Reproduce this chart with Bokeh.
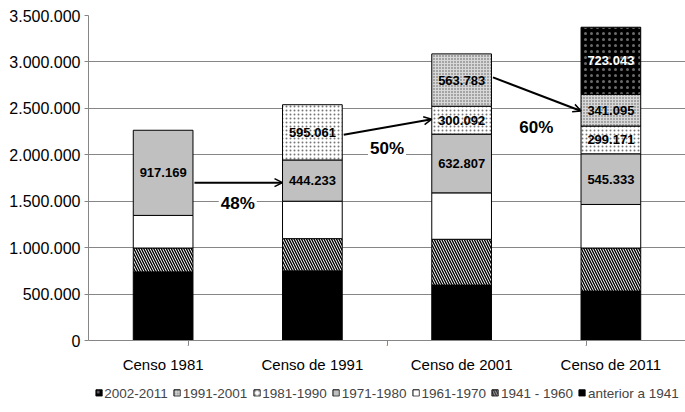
from bokeh.plotting import figure
from bokeh.layouts import column
from bokeh.models import (FactorRange, Range1d, CategoricalAxis, FixedTicker,
                          Legend, LegendItem, ColumnDataSource, Arrow, OpenHead)
from bokeh.core.properties import value
from bokeh.embed import file_html
from bokeh.resources import INLINE

# ---------------- data ----------------
censos = ["Censo 1981", "Censo de 1991", "Censo de 2001", "Censo de 2011"]
cohorts = ["anterior a 1941", "1941 - 1960", "1961-1970", "1971-1980",
           "1981-1990", "1991-2001", "2002-2011"]
anterior_1941 = [739000, 750000, 597000, 532000]
c1941_1960 = [257000, 347000, 493000, 464000]
c1961_1970 = [351000, 403000, 500000, 469000]
c1971_1980 = [917169, 444233, 632807, 545333]
c1981_1990 = [0, 595061, 300092, 299171]
c1991_2001 = [0, 0, 563783, 341095]
c2002_2011 = [0, 0, 0, 723043]
cohort_values = [anterior_1941, c1941_1960, c1961_1970, c1971_1980,
                 c1981_1990, c1991_2001, c2002_2011]
labelled_cohorts = ["1971-1980", "1981-1990", "1991-2001", "2002-2011"]

y_ticks = [0, 500000, 1000000, 1500000, 2000000, 2500000, 3000000, 3500000]
y_tick_labels = ["0", "500.000", "1.000.000", "1.500.000", "2.000.000",
                 "2.500.000", "3.000.000", "3.500.000"]

# arrows: same cohort followed from one census to the next
arrow_from = ["Censo 1981", "Censo de 1991", "Censo de 2001"]
arrow_to = ["Censo de 1991", "Censo de 2001", "Censo de 2011"]
arrow_y_start = [1700000, 2215000, 2833000]
arrow_y_end = [1700000, 2383000, 2472000]
retention_pct = ["48%", "50%", "60%"]
retention_pct_y = [1475000, 2063000, 2290000]

# ---------------- styles ----------------
FONT = "Liberation Sans"
GRID = "#868686"
BAR_W = 0.4
styles = {
    "anterior a 1941": dict(fill_color="black"),
    "1941 - 1960": dict(fill_color="white", hatch_pattern="left_diagonal_line",
                        hatch_color="black", hatch_scale=5, hatch_weight=1.4),
    "1961-1970": dict(fill_color="white"),
    "1971-1980": dict(fill_color="#c0c0c0"),
    "1981-1990": dict(fill_color="white", hatch_pattern="dot", hatch_color="#777777",
                      hatch_scale=4, hatch_weight=0.5),
    "1991-2001": dict(fill_color="#d8d8d8", hatch_pattern="dot", hatch_color="#555555",
                      hatch_scale=3, hatch_weight=0.6),
    "2002-2011": dict(fill_color="black", hatch_pattern="dot", hatch_color="#6a6a6a",
                      hatch_scale=6, hatch_weight=0.5),
}

p = figure(x_range=FactorRange(*censos), y_range=Range1d(0, 3500000),
           width=685, height=375, output_backend="svg", toolbar_location=None,
           x_axis_location=None, min_border_left=88, min_border_right=0,
           min_border_top=15, min_border_bottom=33)
p.outline_line_color = None
p.background_fill_color = "white"
p.border_fill_color = "white"

# stacked bars (only non-empty segments are drawn)
bottoms = [0] * len(censos)
seg_x, seg_y, seg_text, seg_color = [], [], [], []
for name, vals in zip(cohorts, cohort_values):
    tops = [b + v for b, v in zip(bottoms, vals)]
    keep = [i for i, v in enumerate(vals) if v > 0]
    src = ColumnDataSource(dict(x=[censos[i] for i in keep],
                                bottom=[bottoms[i] for i in keep],
                                top=[tops[i] for i in keep]))
    p.vbar(x="x", bottom="bottom", top="top", width=BAR_W, source=src,
           line_color="black", line_width=1, **styles[name])
    if name in labelled_cohorts:
        for i in keep:
            seg_x.append(censos[i])
            seg_y.append(bottoms[i] + vals[i] / 2)
            seg_text.append(f"{vals[i]:,}".replace(",", "."))
            seg_color.append("white" if name == "2002-2011" else "black")
    bottoms = tops

p.text(x="x", y="y", text="t", text_color="c",
       source=ColumnDataSource(dict(x=seg_x, y=seg_y, t=seg_text, c=seg_color)),
       text_font=value(FONT), text_font_style="bold", text_font_size="13px",
       text_align="center", text_baseline="middle")

# arrows (synthetic categorical coordinates: centre of factor i is i + 0.5)
idx = {c: i for i, c in enumerate(censos)}
arrow_src = ColumnDataSource(dict(
    x0=[idx[c] + 0.5 + BAR_W / 2 + 0.01 for c in arrow_from],
    x1=[idx[c] + 0.5 - BAR_W / 2 for c in arrow_to],
    y0=arrow_y_start, y1=arrow_y_end))
p.add_layout(Arrow(x_start="x0", y_start="y0", x_end="x1", y_end="y1", source=arrow_src,
                   line_color="black", line_width=2,
                   end=OpenHead(size=8, line_width=1.5, line_color="black")))

pct_src = ColumnDataSource(dict(x=[idx[c] for c in arrow_to], y=retention_pct_y,
                                t=retention_pct))
p.text(x="x", y="y", text="t", source=pct_src, text_font=value(FONT),
       text_font_style="bold", text_font_size="17px", text_align="center",
       text_baseline="middle", background_fill_color="white", padding=2)

# y axis
p.yaxis.ticker = FixedTicker(ticks=y_ticks)
p.yaxis.major_label_overrides = dict(zip(y_ticks, y_tick_labels))
p.yaxis.major_label_text_font = FONT
p.yaxis.major_label_text_font_size = "16px"
p.yaxis.major_label_text_color = "black"
p.yaxis.major_label_standoff = 4
p.yaxis.axis_line_color = GRID
p.yaxis.major_tick_line_color = GRID
p.yaxis.major_tick_out = 4
p.yaxis.major_tick_in = 0
p.yaxis.minor_tick_line_color = None
p.ygrid.grid_line_color = GRID
p.xgrid.grid_line_color = None

# x axes: tick marks at the category boundaries + category labels
bounds = [f"b{i}" for i in range(len(censos) + 1)]
p.extra_x_ranges = {"bounds": FactorRange(*bounds, range_padding=-1,
                                          range_padding_units="absolute")}
tick_axis = CategoricalAxis(x_range_name="bounds",
                            axis_line_color=GRID, major_tick_line_color=GRID,
                            major_tick_out=5, major_tick_in=0,
                            major_label_overrides={b: "" for b in bounds},
                            major_label_text_font_size="1px", major_label_standoff=0)
p.add_layout(tick_axis, "below")
cat_axis = CategoricalAxis(axis_line_color=None, major_tick_line_color=None,
                           major_label_text_font=FONT, major_label_text_font_size="15px",
                           major_label_text_color="black", major_label_standoff=0)
p.add_layout(cat_axis, "below")

# legend strip (separate figure below the chart)
lg = figure(width=685, height=35, output_backend="svg", toolbar_location=None,
            x_range=Range1d(0, 1), y_range=Range1d(0, 1),
            x_axis_location=None, y_axis_location=None,
            min_border_left=0, min_border_right=0, min_border_top=0, min_border_bottom=0)
lg.outline_line_color = None
lg.xgrid.grid_line_color = None
lg.ygrid.grid_line_color = None
legend_renderers = {}
for name in cohorts:
    # one swatch-defining bar placed outside the visible range (only used by the legend)
    legend_renderers[name] = lg.vbar(x=[5], bottom=[0], top=[1], width=0.1,
                                     line_color="black", line_width=1, **styles[name])
items = [LegendItem(label=n, renderers=[legend_renderers[n]]) for n in reversed(cohorts)]
legend = Legend(items=items, orientation="horizontal", location="center",
                border_line_color=None, background_fill_alpha=0,
                label_text_font=FONT, label_text_font_size="13.5px",
                glyph_width=8, glyph_height=8, label_standoff=2, spacing=5,
                padding=0, margin=0)
lg.add_layout(legend)

layout = column(p, lg, spacing=0)
open("out.html", "w").write(file_html(layout, INLINE))
